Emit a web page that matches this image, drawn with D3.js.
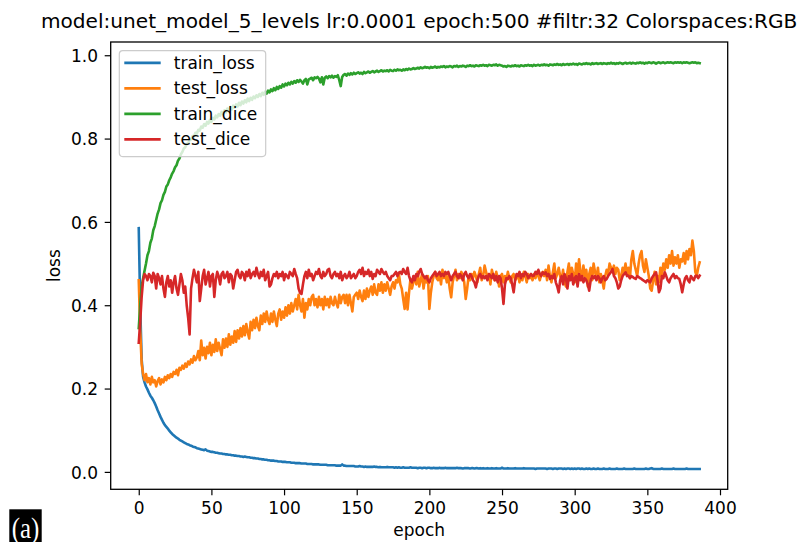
<!doctype html>
<html lang="en">
<head>
<meta charset="UTF-8">
<title>unet training curves</title>
<script src="https://d3js.org/d3.v7.min.js"></script>
<style>
  body { margin: 0; background: #fff; }
  text { font-family: 'DejaVu Sans', sans-serif; fill: #000; }
</style>
</head>
<body>
<script>
// chart text + ticks
const chartTitle = "model:unet_model_5_levels lr:0.0001 epoch:500 #filtr:32 Colorspaces:RGB";
const xLabel = "epoch";
const yLabel = "loss";
const panelTag = "(a)";
const seriesNames = ["train_loss", "test_loss", "train_dice", "test_dice"];
const seriesColors = ["#1f77b4", "#ff7f0e", "#2ca02c", "#d62728"];
const xTicks = [0, 50, 100, 150, 200, 250, 300, 350, 400];
const yTicks = [0.0, 0.2, 0.4, 0.6, 0.8, 1.0];

// one value per epoch (0..386)
const trainLoss = [
  0.585,0.40,0.27,0.228,0.215,0.205,0.198,0.19,0.183,0.178,
  0.172,0.165,0.157,0.148,0.14,0.132,0.125,0.118,0.112,0.108,
  0.104,0.099,0.095,0.091,0.088,0.085,0.082,0.08,0.077,0.075,
  0.073,0.071,0.069,0.067,0.066,0.064,0.063,0.061,0.06,0.059,
  0.057,0.056,0.055,0.054,0.053,0.052,0.054,0.051,0.05,0.049,
  0.048,0.048,0.047,0.046,0.046,0.045,0.044,0.044,0.043,0.043,
  0.042,0.042,0.041,0.041,0.04,0.04,0.039,0.039,0.038,0.038,
  0.037,0.037,0.036,0.037,0.036,0.035,0.035,0.034,0.034,0.033,
  0.033,0.032,0.032,0.031,0.031,0.03,0.03,0.029,0.029,0.028,
  0.028,0.027,0.027,0.027,0.026,0.026,0.025,0.025,0.025,0.024,
  0.024,0.024,0.023,0.023,0.023,0.022,0.022,0.022,0.021,0.021,
  0.021,0.021,0.02,0.02,0.02,0.02,0.019,0.019,0.019,0.019,
  0.018,0.018,0.018,0.018,0.018,0.017,0.017,0.017,0.017,0.017,
  0.016,0.016,0.016,0.016,0.016,0.016,0.015,0.015,0.015,0.015,
  0.018,0.015,0.015,0.014,0.014,0.014,0.014,0.014,0.014,0.013,
  0.013,0.013,0.014,0.013,0.013,0.012,0.013,0.012,0.012,0.012,
  0.012,0.012,0.013,0.012,0.012,0.011,0.012,0.011,0.011,0.011,
  0.011,0.012,0.011,0.011,0.011,0.011,0.01,0.011,0.01,0.011,
  0.01,0.01,0.011,0.01,0.01,0.01,0.01,0.011,0.01,0.01,
  0.01,0.01,0.009,0.01,0.01,0.009,0.01,0.01,0.009,0.01,
  0.01,0.009,0.009,0.01,0.009,0.009,0.009,0.01,0.009,0.009,
  0.009,0.01,0.009,0.009,0.009,0.009,0.009,0.009,0.009,0.01,
  0.009,0.009,0.009,0.008,0.009,0.009,0.009,0.009,0.008,0.009,
  0.009,0.008,0.009,0.009,0.008,0.009,0.008,0.009,0.008,0.008,
  0.009,0.008,0.008,0.009,0.008,0.008,0.009,0.008,0.008,0.008,
  0.01,0.008,0.008,0.008,0.009,0.008,0.008,0.008,0.008,0.009,
  0.008,0.008,0.008,0.008,0.008,0.009,0.008,0.008,0.008,0.008,
  0.008,0.008,0.008,0.007,0.008,0.008,0.008,0.008,0.008,0.008,
  0.008,0.007,0.008,0.008,0.008,0.007,0.008,0.008,0.007,0.008,
  0.008,0.008,0.007,0.008,0.007,0.008,0.008,0.007,0.008,0.007,
  0.008,0.007,0.008,0.008,0.007,0.008,0.007,0.007,0.008,0.007,
  0.008,0.007,0.007,0.008,0.007,0.007,0.008,0.007,0.007,0.007,
  0.008,0.007,0.007,0.007,0.008,0.007,0.007,0.007,0.007,0.008,
  0.007,0.007,0.007,0.007,0.008,0.007,0.007,0.007,0.007,0.007,
  0.007,0.008,0.007,0.007,0.007,0.007,0.007,0.007,0.007,0.008,
  0.007,0.007,0.008,0.009,0.007,0.007,0.007,0.007,0.007,0.007,
  0.008,0.007,0.007,0.007,0.007,0.007,0.007,0.007,0.008,0.007,
  0.007,0.007,0.007,0.007,0.007,0.007,0.007,0.008,0.007,0.007,
  0.007,0.007,0.007,0.007,0.007,0.007,0.007
];

const testLoss = [
  0.46,0.34,0.26,0.235,0.22,0.235,0.215,0.225,0.21,0.228,
  0.215,0.22,0.205,0.218,0.225,0.21,0.222,0.215,0.228,0.22,
  0.232,0.225,0.235,0.228,0.24,0.235,0.245,0.232,0.25,0.245,
  0.255,0.248,0.26,0.252,0.265,0.258,0.27,0.262,0.278,0.268,
  0.275,0.29,0.268,0.315,0.28,0.298,0.272,0.3,0.285,0.31,
  0.28,0.305,0.288,0.318,0.29,0.31,0.295,0.28,0.318,0.298,
  0.32,0.3,0.33,0.305,0.325,0.31,0.338,0.312,0.34,0.32,
  0.345,0.325,0.35,0.328,0.355,0.335,0.32,0.36,0.34,0.365,
  0.345,0.37,0.35,0.34,0.375,0.355,0.38,0.36,0.385,0.365,
  0.355,0.38,0.36,0.385,0.365,0.35,0.38,0.39,0.365,0.385,
  0.37,0.395,0.375,0.4,0.38,0.405,0.385,0.4,0.415,0.39,
  0.425,0.4,0.385,0.415,0.37,0.405,0.39,0.415,0.4,0.42,
  0.425,0.4,0.415,0.395,0.42,0.4,0.415,0.39,0.42,0.4,
  0.415,0.395,0.42,0.405,0.4,0.42,0.405,0.395,0.425,0.405,
  0.42,0.425,0.405,0.425,0.4,0.425,0.405,0.385,0.42,0.425,
  0.43,0.415,0.435,0.42,0.41,0.435,0.415,0.44,0.42,0.435,
  0.445,0.425,0.45,0.43,0.425,0.45,0.435,0.455,0.43,0.45,
  0.435,0.455,0.44,0.425,0.445,0.455,0.44,0.46,0.455,0.475,
  0.45,0.44,0.415,0.391,0.43,0.39,0.43,0.463,0.44,0.455,
  0.47,0.45,0.48,0.445,0.46,0.475,0.44,0.465,0.455,0.47,
  0.391,0.43,0.455,0.47,0.48,0.465,0.46,0.475,0.45,0.485,
  0.465,0.475,0.455,0.47,0.44,0.419,0.455,0.47,0.485,0.46,
  0.475,0.465,0.48,0.47,0.455,0.415,0.44,0.47,0.46,0.475,
  0.465,0.48,0.47,0.455,0.475,0.49,0.46,0.47,0.495,0.48,
  0.465,0.475,0.45,0.485,0.47,0.46,0.48,0.465,0.445,0.47,
  0.475,0.455,0.47,0.46,0.48,0.465,0.455,0.47,0.475,0.46,
  0.465,0.475,0.455,0.47,0.46,0.48,0.47,0.455,0.475,0.465,
  0.47,0.46,0.475,0.465,0.48,0.47,0.46,0.475,0.48,0.47,
  0.485,0.46,0.495,0.47,0.455,0.48,0.5,0.465,0.475,0.49,
  0.47,0.46,0.485,0.455,0.445,0.48,0.5,0.465,0.49,0.475,
  0.455,0.5,0.47,0.51,0.48,0.46,0.495,0.47,0.485,0.445,
  0.475,0.49,0.46,0.5,0.48,0.465,0.49,0.455,0.475,0.46,
  0.44,0.47,0.485,0.475,0.5,0.49,0.48,0.495,0.475,0.49,
  0.485,0.46,0.47,0.49,0.48,0.5,0.475,0.49,0.465,0.51,
  0.53,0.5,0.485,0.47,0.5,0.52,0.53,0.495,0.48,0.51,
  0.49,0.47,0.44,0.435,0.46,0.48,0.45,0.47,0.455,0.49,
  0.47,0.5,0.485,0.51,0.49,0.52,0.5,0.53,0.495,0.515,
  0.5,0.52,0.49,0.51,0.505,0.525,0.5,0.53,0.51,0.535,
  0.52,0.555,0.53,0.48,0.47,0.49,0.503
];

const trainDice = [
  0.345,0.40,0.445,0.465,0.483,0.50,0.52,0.53,0.55,0.56,
  0.58,0.59,0.605,0.62,0.63,0.645,0.652,0.665,0.672,0.685,
  0.69,0.70,0.707,0.716,0.722,0.731,0.736,0.747,0.752,0.762,
  0.768,0.776,0.779,0.787,0.789,0.797,0.798,0.806,0.805,0.814,
  0.812,0.821,0.819,0.829,0.826,0.835,0.831,0.84,0.836,0.845,
  0.84,0.85,0.846,0.855,0.851,0.859,0.855,0.864,0.859,0.868,
  0.863,0.872,0.867,0.876,0.87,0.879,0.874,0.882,0.877,0.886,
  0.88,0.889,0.884,0.892,0.887,0.896,0.89,0.898,0.893,0.901,
  0.897,0.904,0.9,0.907,0.902,0.91,0.905,0.913,0.908,0.915,
  0.911,0.918,0.914,0.921,0.916,0.924,0.919,0.926,0.922,0.93,
  0.925,0.932,0.928,0.934,0.93,0.936,0.932,0.938,0.934,0.94,
  0.936,0.941,0.937,0.932,0.94,0.943,0.93,0.942,0.944,0.946,
  0.94,0.947,0.945,0.948,0.944,0.935,0.947,0.93,0.946,0.949,
  0.945,0.95,0.947,0.951,0.946,0.95,0.948,0.952,0.94,0.926,
  0.948,0.953,0.955,0.951,0.956,0.953,0.957,0.954,0.958,0.955,
  0.957,0.959,0.956,0.958,0.955,0.96,0.957,0.959,0.961,0.958,
  0.96,0.962,0.959,0.961,0.963,0.96,0.962,0.964,0.961,0.963,
  0.962,0.964,0.961,0.965,0.963,0.962,0.965,0.963,0.966,0.964,
  0.965,0.963,0.966,0.964,0.967,0.965,0.968,0.966,0.967,0.969,
  0.967,0.968,0.97,0.968,0.971,0.969,0.97,0.972,0.97,0.971,
  0.969,0.972,0.97,0.971,0.973,0.97,0.972,0.971,0.973,0.972,
  0.974,0.971,0.973,0.972,0.974,0.973,0.971,0.974,0.973,0.975,
  0.972,0.974,0.973,0.975,0.974,0.972,0.975,0.974,0.976,0.974,
  0.975,0.973,0.976,0.975,0.974,0.976,0.975,0.977,0.975,0.976,
  0.974,0.977,0.976,0.975,0.977,0.976,0.978,0.975,0.977,0.976,
  0.975,0.973,0.974,0.972,0.975,0.974,0.973,0.975,0.974,0.976,
  0.974,0.975,0.973,0.976,0.975,0.974,0.976,0.975,0.977,0.975,
  0.976,0.974,0.977,0.975,0.976,0.977,0.975,0.977,0.976,0.978,
  0.976,0.977,0.975,0.978,0.977,0.976,0.978,0.977,0.979,0.977,
  0.978,0.976,0.979,0.977,0.978,0.979,0.977,0.979,0.978,0.98,
  0.978,0.979,0.977,0.98,0.979,0.978,0.98,0.979,0.981,0.979,
  0.98,0.978,0.981,0.979,0.98,0.981,0.979,0.98,0.981,0.979,
  0.981,0.98,0.979,0.981,0.98,0.982,0.98,0.981,0.979,0.981,
  0.98,0.982,0.981,0.979,0.981,0.982,0.98,0.981,0.982,0.98,
  0.982,0.981,0.98,0.982,0.981,0.983,0.981,0.982,0.98,0.982,
  0.981,0.983,0.982,0.981,0.983,0.982,0.98,0.982,0.983,0.981,
  0.982,0.983,0.981,0.982,0.983,0.982,0.983,0.982,0.981,0.983,
  0.982,0.983,0.982,0.983,0.981,0.983,0.982,0.983,0.982,0.981,
  0.982,0.983,0.982,0.983,0.981,0.982,0.981
];

const testDice = [
  0.31,0.36,0.42,0.46,0.475,0.47,0.46,0.475,0.47,0.455,
  0.478,0.47,0.44,0.475,0.465,0.45,0.47,0.44,0.42,0.455,
  0.47,0.445,0.46,0.43,0.455,0.47,0.44,0.425,0.45,0.475,
  0.46,0.43,0.445,0.40,0.37,0.33,0.44,0.465,0.485,0.47,
  0.455,0.48,0.41,0.44,0.47,0.485,0.45,0.465,0.48,0.445,
  0.47,0.475,0.42,0.46,0.48,0.47,0.45,0.475,0.48,0.465,
  0.47,0.48,0.455,0.475,0.47,0.44,0.46,0.48,0.485,0.47,
  0.465,0.48,0.475,0.46,0.48,0.47,0.485,0.465,0.475,0.48,
  0.47,0.49,0.475,0.465,0.48,0.47,0.485,0.46,0.47,0.48,
  0.445,0.45,0.465,0.475,0.47,0.48,0.465,0.475,0.47,0.48,
  0.46,0.475,0.47,0.465,0.48,0.475,0.47,0.487,0.475,0.465,
  0.44,0.43,0.427,0.45,0.47,0.48,0.465,0.485,0.47,0.475,
  0.46,0.47,0.48,0.475,0.487,0.47,0.465,0.48,0.47,0.475,
  0.485,0.487,0.47,0.465,0.475,0.48,0.47,0.475,0.465,0.48,
  0.46,0.47,0.475,0.465,0.47,0.48,0.465,0.47,0.475,0.465,
  0.47,0.48,0.485,0.475,0.49,0.47,0.48,0.475,0.485,0.47,
  0.48,0.463,0.475,0.47,0.485,0.48,0.475,0.487,0.48,0.475,
  0.48,0.47,0.465,0.46,0.47,0.47,0.475,0.48,0.47,0.478,
  0.48,0.475,0.487,0.48,0.475,0.49,0.47,0.46,0.455,0.47,
  0.46,0.475,0.47,0.48,0.487,0.475,0.47,0.465,0.47,0.46,
  0.455,0.465,0.47,0.475,0.48,0.47,0.475,0.48,0.47,0.475,
  0.47,0.48,0.475,0.48,0.47,0.46,0.47,0.475,0.48,0.47,
  0.465,0.475,0.47,0.46,0.475,0.48,0.47,0.465,0.475,0.47,
  0.46,0.455,0.443,0.46,0.47,0.475,0.465,0.47,0.465,0.47,
  0.46,0.475,0.47,0.465,0.475,0.46,0.47,0.455,0.47,0.465,
  0.44,0.403,0.45,0.465,0.463,0.47,0.465,0.45,0.431,0.46,
  0.475,0.47,0.48,0.465,0.475,0.47,0.48,0.475,0.465,0.47,
  0.475,0.47,0.471,0.48,0.475,0.485,0.475,0.47,0.479,0.475,
  0.479,0.47,0.475,0.463,0.47,0.465,0.475,0.455,0.445,0.431,
  0.46,0.47,0.45,0.475,0.465,0.44,0.47,0.46,0.475,0.45,
  0.465,0.47,0.445,0.475,0.46,0.47,0.455,0.465,0.46,0.45,
  0.435,0.46,0.47,0.465,0.47,0.46,0.47,0.465,0.455,0.465,
  0.47,0.46,0.463,0.47,0.475,0.48,0.487,0.47,0.465,0.455,
  0.44,0.445,0.46,0.47,0.475,0.479,0.47,0.471,0.465,0.47,
  0.468,0.465,0.463,0.47,0.468,0.465,0.463,0.46,0.458,0.455,
  0.46,0.457,0.455,0.465,0.47,0.475,0.479,0.46,0.431,0.44,
  0.47,0.465,0.479,0.47,0.46,0.455,0.465,0.47,0.475,0.465,
  0.47,0.465,0.463,0.45,0.431,0.45,0.465,0.47,0.46,0.455,
  0.47,0.465,0.46,0.47,0.471,0.465,0.471
];

const width = 809,
      height = 542;
const margin = {top: 42, right: 81.3, bottom: 52.7, left: 110.7};
const plotW = width - margin.left - margin.right,
      plotH = height - margin.top - margin.bottom;

const series = [trainLoss, testLoss, trainDice, testDice].map(function(vals, i) {
    return {name: seriesNames[i], color: seriesColors[i], values: vals};
});

// matplotlib-style 5% autoscale margins
const nEpochs = trainLoss.length;
const xMin = 0, xMax = nEpochs - 1;
const allVals = [].concat(trainLoss, testLoss, trainDice, testDice);
const yMin = d3.min(allVals), yMax = d3.max(allVals);
const xPad = (xMax - xMin) * 0.05, yPad = (yMax - yMin) * 0.05;

const x = d3.scaleLinear()
    .domain([xMin - xPad, xMax + xPad])
    .range([0, plotW]);
const y = d3.scaleLinear()
    .domain([yMin - yPad, yMax + yPad])
    .range([plotH, 0]);

const svg = d3.select('body').append('svg')
    .attr('width', width)
    .attr('height', height)
    .style('display', 'block');

svg.append('rect')
    .attr('width', width)
    .attr('height', height)
    .attr('fill', '#fff');

const g = svg.append('g')
    .attr('transform', 'translate(' + margin.left + ',' + margin.top + ')');

// clip lines to the axes box
g.append('clipPath').attr('id', 'plotclip')
  .append('rect')
    .attr('width', plotW)
    .attr('height', plotH);

const line = d3.line()
    .x(function(d, i) { return x(i); })
    .y(function(d) { return y(d); });

g.append('g')
    .attr('clip-path', 'url(#plotclip)')
  .selectAll('path')
    .data(series)
    .enter().append('path')
    .attr('d', function(d) { return line(d.values); })
    .attr('fill', 'none')
    .attr('stroke', function(d) { return d.color; })
    .attr('stroke-width', 2.6)
    .attr('stroke-linejoin', 'round')
    .attr('stroke-linecap', 'square');

// axes
const xAxis = g.append('g')
    .attr('transform', 'translate(0,' + plotH + ')')
    .call(d3.axisBottom(x).tickValues(xTicks).tickSize(6).tickPadding(7).tickFormat(d3.format('d')));
const yAxis = g.append('g')
    .call(d3.axisLeft(y).tickValues(yTicks).tickSize(6).tickPadding(6.7).tickFormat(d3.format('.1f')));

[xAxis, yAxis].forEach(function(ax) {
    ax.select('.domain').remove();
    ax.attr('font-family', null).attr('font-size', null);
    ax.selectAll('line').attr('stroke', '#000').attr('stroke-width', 1.2);
    ax.selectAll('text')
        .style('font-family', "'DejaVu Sans', sans-serif")
        .style('font-size', '17px')
        .attr('fill', '#000');
});
yAxis.selectAll('text').attr('dy', '0.36em');

// spines
g.append('rect')
    .attr('width', plotW)
    .attr('height', plotH)
    .attr('fill', 'none')
    .attr('stroke', '#000')
    .attr('stroke-width', 1.3);

// legend
const legend = g.append('g')
    .attr('transform', 'translate(8.6,8.6)');
legend.append('rect')
    .attr('width', 146.4)
    .attr('height', 106)
    .attr('rx', 3.5)
    .attr('fill', '#fff')
    .attr('fill-opacity', 0.8)
    .attr('stroke', '#ccc')
    .attr('stroke-width', 1.2);
const item = legend.selectAll('.item')
    .data(series)
    .enter().append('g')
    .attr('class', 'item')
    .attr('transform', function(d, i) { return 'translate(0,' + (12.3 + i * 25.5) + ')'; });
item.append('line')
    .attr('x1', 5).attr('x2', 41.4)
    .attr('stroke', function(d) { return d.color; })
    .attr('stroke-width', 2.6);
item.append('text')
    .attr('x', 54.5)
    .attr('dy', '0.34em')
    .style('font-size', '17px')
    .text(function(d) { return d.name; });

// title + axis labels
svg.append('text')
    .attr('x', margin.left + plotW / 2)
    .attr('y', 28)
    .attr('text-anchor', 'middle')
    .style('font-size', '20.1px')
    .text(chartTitle);

svg.append('text')
    .attr('x', margin.left + plotW / 2)
    .attr('y', 536)
    .attr('text-anchor', 'middle')
    .style('font-size', '17px')
    .text(xLabel);

svg.append('text')
    .attr('transform', 'translate(60,' + (margin.top + plotH / 2) + ') rotate(-90)')
    .attr('text-anchor', 'middle')
    .style('font-size', '17px')
    .text(yLabel);

// panel tag, white on black
svg.append('rect')
    .attr('x', 9.3)
    .attr('y', 509.3)
    .attr('width', 32.4)
    .attr('height', 32.7)
    .attr('fill', '#000');
svg.append('text')
    .attr('x', 25.5)
    .attr('y', 537.5)
    .attr('text-anchor', 'middle')
    .attr('textLength', 27.6)
    .attr('lengthAdjust', 'spacingAndGlyphs')
    .style('font-family', "'Liberation Serif', 'Times New Roman', serif")
    .style('font-size', '29px')
    .style('fill', '#fff')
    .text(panelTag);
</script>
</body>
</html>
